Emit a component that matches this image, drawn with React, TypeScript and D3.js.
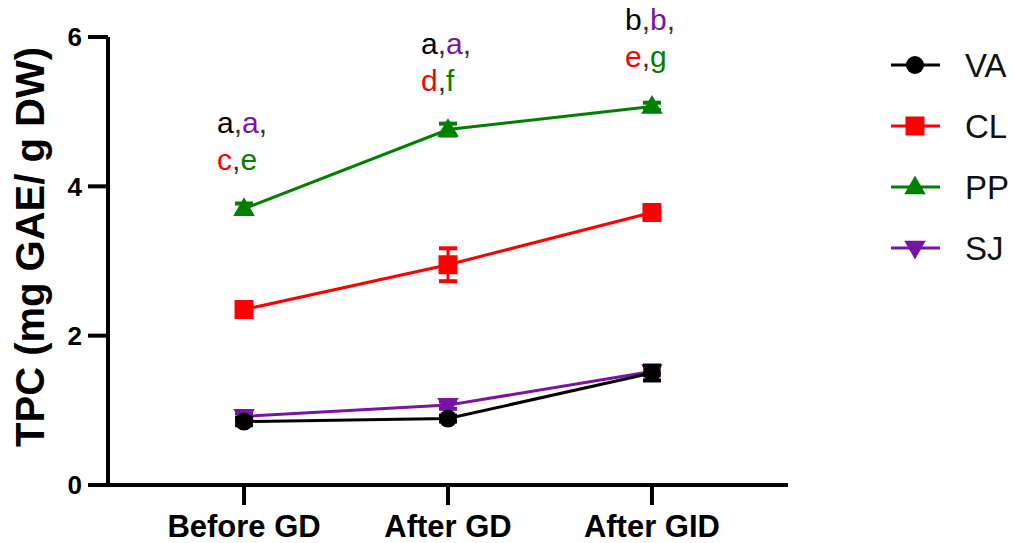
import React from "react";
import * as d3 from "d3";

const categories = ["Before GD", "After GD", "After GID"];
const seriesNames = ["VA", "CL", "PP", "SJ"];
const seriesColors = ["#000000", "#ff0000", "#008000", "#7a12a8"];
const seriesShapes = ["circle", "square", "triangle", "triangleDown"];

const vaMeans = [0.85, 0.89, 1.5];
const vaErrors = [0.05, 0.04, 0.1];
const clMeans = [2.35, 2.95, 3.65];
const clErrors = [0.05, 0.22, 0.06];
const ppMeans = [3.7, 4.76, 5.07];
const ppErrors = [0.07, 0.08, 0.05];
const sjMeans = [0.92, 1.07, 1.52];
const sjErrors = [0.04, 0.05, 0.05];

const yTicks = [0, 2, 4, 6];

// letters above each group: [line1, line2], each letter with its series index
const letterLines = [
  [[["a", 0], ["a", 3]], [["c", 1], ["e", 2]]],
  [[["a", 0], ["a", 3]], [["d", 1], ["f", 2]]],
  [[["b", 0], ["b", 3]], [["e", 1], ["g", 2]]],
];

const allMeans = [vaMeans, clMeans, ppMeans, sjMeans];
const allErrors = [vaErrors, clErrors, ppErrors, sjErrors];

const W = 1014;
const H = 543;
const font = "Arial, 'Liberation Sans', Helvetica, sans-serif";

function Marker({ shape, x, y, color }) {
  if (shape === "circle") return <circle cx={x} cy={y} r={9} fill={color} />;
  if (shape === "square")
    return <rect x={x - 9.5} y={y - 9.5} width={19} height={19} fill={color} />;
  const sym = d3.symbol().type(d3.symbolTriangle).size(200)();
  return (
    <path
      d={sym}
      fill={color}
      transform={`translate(${x},${y + (shape === "triangle" ? 1 : -1)}) rotate(${shape === "triangle" ? 0 : 180})`}
    />
  );
}

export default function App() {
  const x = d3.scalePoint().domain(categories).range([108, 788]).padding(0.667);
  const y = d3.scaleLinear().domain([0, 6]).range([485, 37]);

  const line = d3
    .line<number>()
    .x((d, i) => x(categories[i]))
    .y((d) => y(d));

  const order = [3, 2, 1, 0];

  return (
    <div style={{ position: "fixed", left: 0, top: 0 }}>
      <svg width={W} height={H} style={{ display: "block", background: "#fff" }}>
        {/* axes */}
        <line x1={108} x2={108} y1={y(6)} y2={y(0) + 2} stroke="#000" strokeWidth={4} />
        <line x1={106} x2={788} y1={y(0)} y2={y(0)} stroke="#000" strokeWidth={4} />
        {yTicks.map((t) => (
          <g key={t}>
            <line x1={88} x2={108} y1={y(t)} y2={y(t)} stroke="#000" strokeWidth={4} />
            <text
              x={82}
              y={y(t)}
              dy="0.36em"
              textAnchor="end"
              fontFamily={font}
              fontWeight="bold"
              fontSize={26}
            >
              {t}
            </text>
          </g>
        ))}
        {categories.map((c) => (
          <g key={c}>
            <line x1={x(c)} x2={x(c)} y1={y(0)} y2={y(0) + 20} stroke="#000" strokeWidth={4} />
            <text
              x={x(c)}
              y={537}
              textAnchor="middle"
              fontFamily={font}
              fontWeight="bold"
              fontSize={31}
            >
              {c}
            </text>
          </g>
        ))}
        <text
          transform={`translate(44,${(y(0) + y(6)) / 2 - 14}) rotate(-90)`}
          textAnchor="middle"
          fontFamily={font}
          fontWeight="bold"
          fontSize={40}
        >
          TPC (mg GAE/ g DW)
        </text>

        {/* series */}
        {order.map((s) => (
          <g key={seriesNames[s]}>
            <path d={line(allMeans[s])} fill="none" stroke={seriesColors[s]} strokeWidth={3} />
            {allMeans[s].map((v, i) => {
              const cx = x(categories[i]);
              const e = allErrors[s][i];
              return (
                <g key={i}>
                  <line x1={cx} x2={cx} y1={y(v + e)} y2={y(v - e)} stroke={seriesColors[s]} strokeWidth={3} />
                  <line x1={cx - 9} x2={cx + 9} y1={y(v + e)} y2={y(v + e)} stroke={seriesColors[s]} strokeWidth={4} />
                  <line x1={cx - 9} x2={cx + 9} y1={y(v - e)} y2={y(v - e)} stroke={seriesColors[s]} strokeWidth={4} />
                  <Marker shape={seriesShapes[s]} x={cx} y={y(v)} color={seriesColors[s]} />
                </g>
              );
            })}
          </g>
        ))}

        {/* significance letters */}
        {letterLines.map((lines, i) => {
          const base = y(ppMeans[i]);
          return lines.map((parts, li) => (
            <text
              key={`${i}-${li}`}
              x={x(categories[i]) - 27}
              y={base + (li === 0 ? -76 : -39)}
              fontFamily={font}
              fontSize={30}
            >
              {parts.map(([ch, si], k) => (
                <React.Fragment key={k}>
                  <tspan fill={seriesColors[si as number]}>{ch}</tspan>
                  {(li === 0 || k === 0) && <tspan fill="#333">,</tspan>}
                </React.Fragment>
              ))}
            </text>
          ));
        })}

        {/* legend */}
        {seriesNames.map((n, i) => {
          const ly = 65 + i * 61;
          return (
            <g key={n}>
              <line x1={891} x2={940} y1={ly} y2={ly} stroke={seriesColors[i]} strokeWidth={3} />
              <Marker shape={seriesShapes[i]} x={915} y={ly} color={seriesColors[i]} />
              <text x={965} y={ly} dy="0.36em" fontFamily={font} fontSize={33} fill="#111">
                {n}
              </text>
            </g>
          );
        })}
      </svg>
    </div>
  );
}
